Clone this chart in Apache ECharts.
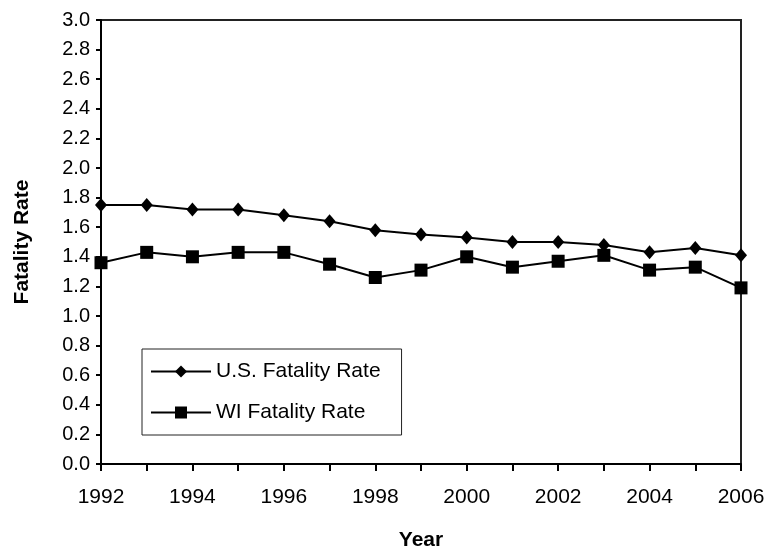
<!DOCTYPE html>
<html>
<head>
<meta charset="utf-8">
<script src="https://cdn.jsdelivr.net/npm/echarts@6/dist/echarts.min.js"></script>
<style>
  html, body { margin: 0; padding: 0; background: #fff; }
  #chart { width: 768px; height: 557px; }
</style>
</head>
<body>
<div id="chart"></div>
<script>
// years on the x axis
const years = ['1992', '1993', '1994', '1995', '1996', '1997', '1998', '1999',
  '2000', '2001', '2002', '2003', '2004', '2005', '2006']
const usRate = [1.75, 1.75, 1.72, 1.72, 1.68, 1.64, 1.58, 1.55, 1.53, 1.50, 1.50, 1.48, 1.43, 1.46, 1.41]
const wiRate = [1.36, 1.43, 1.40, 1.43, 1.43, 1.35, 1.26, 1.31, 1.40, 1.33, 1.37, 1.41, 1.31, 1.33, 1.19]

const font = 'Liberation Sans, Arial, sans-serif'
const chart = echarts.init(document.getElementById('chart'))

chart.setOption({
  animation: false,
  backgroundColor: '#fff',
  textStyle: { fontFamily: font, color: '#000' },
  grid: {
    left: 101, right: 27, top: 20, bottom: 93,
    containLabel: false,
    show: true,
    borderColor: '#222',
    borderWidth: 2
  },
  legend: {
    orient: 'vertical',
    left: 142,
    top: 349,
    padding: [12, 21, 12, 8],
    itemWidth: 60,
    itemHeight: 15,
    itemGap: 20,
    borderColor: '#222',
    borderWidth: 1,
    textStyle: { fontSize: 21, lineHeight: 20, color: '#000', fontFamily: font },
    data: ['U.S. Fatality Rate', 'WI Fatality Rate']
  },
  xAxis: {
    type: 'category',
    data: years,
    boundaryGap: false,
    name: 'Year',
    nameLocation: 'middle',
    nameGap: 66,
    nameTextStyle: { fontSize: 21, fontWeight: 'bold', color: '#000' },
    axisLine: { lineStyle: { color: '#000', width: 2 } },
    axisTick: { interval: 0, length: 7, lineStyle: { color: '#000', width: 2 } },
    axisLabel: { interval: 1, margin: 23, fontSize: 21, color: '#000' },
    splitLine: { show: false }
  },
  yAxis: {
    type: 'value',
    min: 0,
    max: 3,
    interval: 0.2,
    name: 'Fatality Rate',
    nameLocation: 'middle',
    nameGap: 68,
    nameTextStyle: { fontSize: 21, fontWeight: 'bold', color: '#000' },
    axisLine: { show: true, lineStyle: { color: '#000', width: 2 } },
    axisTick: { show: true, length: 5, lineStyle: { color: '#000', width: 2 } },
    axisLabel: { margin: 11, fontSize: 20, color: '#000', formatter: v => v.toFixed(1) },
    splitLine: { show: false }
  },
  series: [
    {
      name: 'U.S. Fatality Rate',
      type: 'line',
      data: usRate,
      symbol: 'diamond',
      symbolSize: [12, 14],
      lineStyle: { color: '#000', width: 2 },
      itemStyle: { color: '#000' }
    },
    {
      name: 'WI Fatality Rate',
      type: 'line',
      data: wiRate,
      symbol: 'rect',
      symbolSize: 13,
      lineStyle: { color: '#000', width: 2 },
      itemStyle: { color: '#000' }
    }
  ]
})
</script>
</body>
</html>
